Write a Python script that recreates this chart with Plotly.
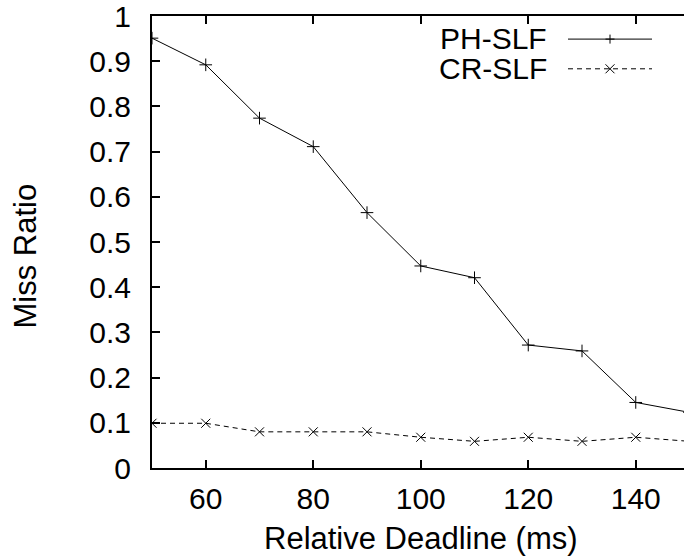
import plotly.graph_objects as go

# Data
deadline = [50, 60, 70, 80, 90, 100, 110, 120, 130, 140, 150]
ph_slf = [0.951, 0.892, 0.774, 0.711, 0.565, 0.447, 0.421, 0.272, 0.259, 0.145, 0.123]
cr_slf = [0.099, 0.099, 0.080, 0.080, 0.080, 0.068, 0.059, 0.068, 0.059, 0.068, 0.059]
series_names = ["PH-SLF", "CR-SLF"]
y_ticks = [0, 0.1, 0.2, 0.3, 0.4, 0.5, 0.6, 0.7, 0.8, 0.9, 1]
y_tick_labels = ["0", "0.1", "0.2", "0.3", "0.4", "0.5", "0.6", "0.7", "0.8", "0.9", "1"]
x_ticks = [60, 80, 100, 120, 140]

W, H = 684, 558
L, R, T, B = 152, 0, 16, 90
FONT = "Liberation Sans, Arial, Helvetica, sans-serif"
FS_TICK = 30
FS_TITLE = 31
FS_LEG = 30

fig = go.Figure()
fig.add_trace(go.Scatter(
    x=deadline, y=ph_slf, mode="lines+markers", name=series_names[0],
    line=dict(color="black", width=1),
    marker=dict(symbol="cross-thin", size=9, color="black", line=dict(color="black", width=1)),
    showlegend=False, cliponaxis=True,
))
fig.add_trace(go.Scatter(
    x=deadline, y=cr_slf, mode="lines+markers", name=series_names[1],
    line=dict(color="black", width=1, dash="5px,4px"),
    marker=dict(symbol="x-thin", size=9, color="black", line=dict(color="black", width=1)),
    showlegend=False, cliponaxis=True,
))

# x range such that x=150 lies just beyond the right edge (as in the cropped reference)
px_per_unit = 107.5 / 20.0
x_max = 50 + (W - L - R) / px_per_unit

def px_to_paper_x(px):
    return (px - L) / (W - L - R)

def px_to_paper_y(py):
    return (H - B - py) / (H - T - B)

shapes = []
annotations = []
# custom gnuplot-style legend (text right, sample to the right)
leg = [(series_names[0], 38.6, "solid", "plus"), (series_names[1], 68.3, "5px,4px", "x")]
for name, py, dash, mk in leg:
    annotations.append(dict(
        text=name, xref="paper", yref="paper", x=px_to_paper_x(548.5), y=px_to_paper_y(py),
        xanchor="right", yanchor="middle", showarrow=False,
        font=dict(family=FONT, size=FS_LEG, color="black")))
    shapes.append(dict(type="line", xref="paper", yref="paper",
                       x0=px_to_paper_x(568), x1=px_to_paper_x(652),
                       y0=px_to_paper_y(py + 0.5), y1=px_to_paper_y(py + 0.5),
                       line=dict(color="black", width=1, dash=dash)))
    cx, cy, h = 610, py + 0.5, 4.5
    if mk == "plus":
        segs = [((cx - h, cy), (cx + h, cy)), ((cx, cy - h), (cx, cy + h))]
    else:
        segs = [((cx - h, cy - h), (cx + h, cy + h)), ((cx - h, cy + h), (cx + h, cy - h))]
    for (a, b) in segs:
        shapes.append(dict(type="line", xref="paper", yref="paper",
                           x0=px_to_paper_x(a[0]), y0=px_to_paper_y(a[1]),
                           x1=px_to_paper_x(b[0]), y1=px_to_paper_y(b[1]),
                           line=dict(color="black", width=1)))

# axis titles
annotations.append(dict(text="Relative Deadline (ms)", xref="x", yref="paper",
                        x=100, y=px_to_paper_y(557.5), xanchor="center", yanchor="bottom",
                        showarrow=False, font=dict(family=FONT, size=FS_TITLE, color="black")))
annotations.append(dict(text="Miss Ratio", xref="paper", yref="paper",
                        x=px_to_paper_x(25.5), y=px_to_paper_y(256), xanchor="center", yanchor="middle",
                        textangle=-90, showarrow=False, font=dict(family=FONT, size=FS_TITLE, color="black")))

fig.update_layout(
    width=W, height=H,
    margin=dict(l=L, r=R, t=T, b=B, pad=0),
    paper_bgcolor="white", plot_bgcolor="white",
    font=dict(family=FONT, size=FS_TICK, color="black"),
    shapes=shapes, annotations=annotations,
    showlegend=False,
)
fig.update_xaxes(
    range=[50, x_max], tickvals=x_ticks, ticks="inside", ticklen=8, tickwidth=1.5,
    tickcolor="black", showline=True, linecolor="black", linewidth=2, mirror="ticks",
    showgrid=False, zeroline=False, ticklabelstandoff=3, ticklabeloverflow="allow",
    tickfont=dict(family=FONT, size=FS_TICK, color="black"),
)
fig.update_yaxes(
    range=[0, 1], tickvals=y_ticks, ticktext=y_tick_labels, ticks="inside", ticklen=8,
    tickwidth=1.5, tickcolor="black", showline=True, linecolor="black", linewidth=2,
    mirror=False, showgrid=False, zeroline=False, ticklabelstandoff=13,
    ticklabeloverflow="allow",
    tickfont=dict(family=FONT, size=FS_TICK, color="black"),
)

fig.write_html("out.html")
